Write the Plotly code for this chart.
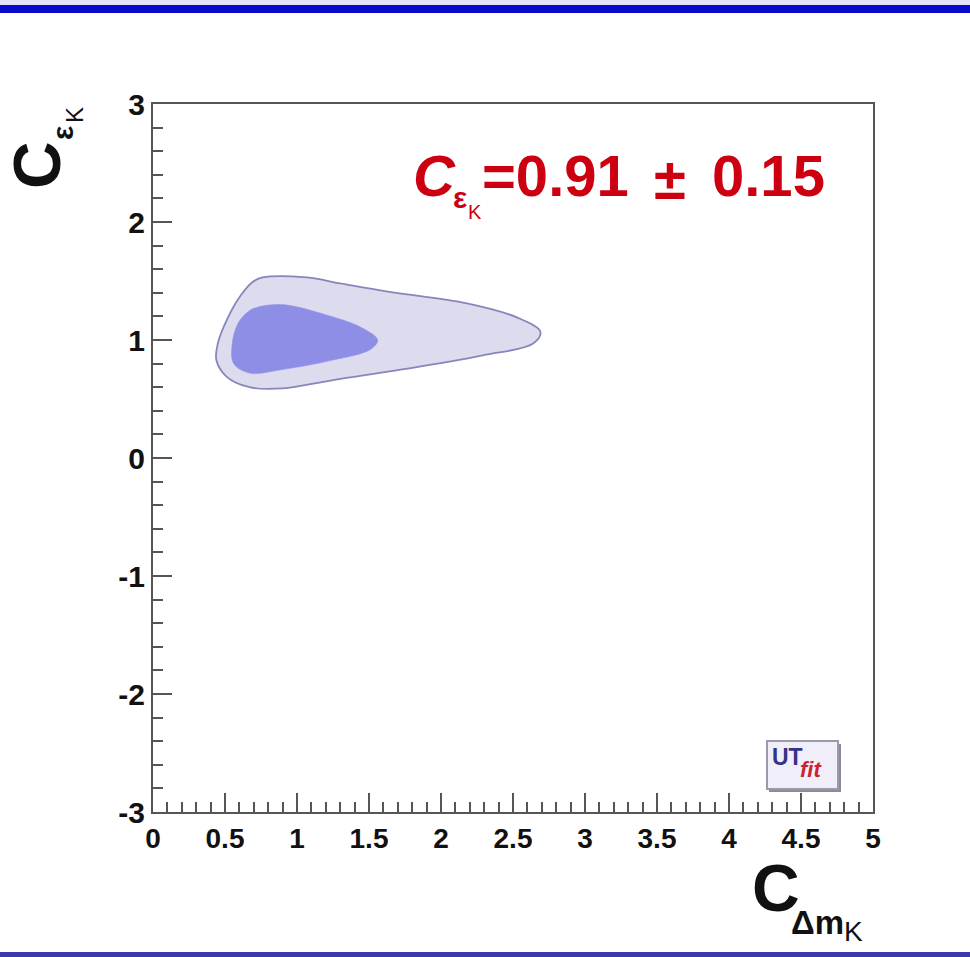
import plotly.graph_objects as go

# ---- data ----
outer_x = [0.76, 1.07, 1.30, 1.63, 2.18, 2.53, 2.69, 2.64, 2.29, 1.83, 1.25, 0.90, 0.67, 0.51, 0.44, 0.45, 0.52, 0.61, 0.69]
outer_y = [1.53, 1.53, 1.48, 1.41, 1.31, 1.19, 1.07, 0.97, 0.87, 0.77, 0.66, 0.59, 0.60, 0.69, 0.83, 0.97, 1.19, 1.38, 1.49]
inner_x = [0.73, 0.90, 1.21, 1.44, 1.56, 1.51, 1.25, 0.90, 0.67, 0.56, 0.55, 0.59, 0.66]
inner_y = [1.28, 1.30, 1.21, 1.11, 1.00, 0.92, 0.83, 0.75, 0.72, 0.80, 0.97, 1.14, 1.24]

x_tickvals = [0, 0.5, 1, 1.5, 2, 2.5, 3, 3.5, 4, 4.5, 5]
x_ticktext = ["0", "0.5", "1", "1.5", "2", "2.5", "3", "3.5", "4", "4.5", "5"]
y_tickvals = [-3, -2, -1, 0, 1, 2, 3]
y_ticktext = ["-3", "-2", "-1", "0", "1", "2", "3"]

result_value = "0.91"
result_error = "0.15"

# ---- layout geometry (pixels) ----
W, H = 970, 957
L, R, T, B = 153, 97, 104, 145
PW, PH = W - L - R, H - T - B


def px(x):
    return (x - L) / PW


def py(y):
    return (H - B - y) / PH


fig = go.Figure()
fig.add_trace(go.Scatter(
    x=outer_x + outer_x[:1], y=outer_y + outer_y[:1], mode="lines",
    line=dict(shape="spline", smoothing=1.0, color="#8686bc", width=1.8),
    fill="toself", fillcolor="#dcdcee", hoverinfo="skip", showlegend=False))
fig.add_trace(go.Scatter(
    x=inner_x + inner_x[:1], y=inner_y + inner_y[:1], mode="lines",
    line=dict(shape="spline", smoothing=1.0, color="#8e8ee6", width=0.5),
    fill="toself", fillcolor="#8e8ee6", hoverinfo="skip", showlegend=False))

axis_common = dict(showgrid=False, zeroline=False, showline=True, linecolor="#555555",
                   linewidth=2, mirror=True, ticks="inside", tickcolor="#555555",
                   tickwidth=2, ticklen=19,
                   tickfont=dict(family="Liberation Sans", size=28, color="#111111", weight="bold"))

fig.update_xaxes(range=[0, 5], tickmode="array", tickvals=x_tickvals, ticktext=x_ticktext,
                 minor=dict(tickmode="linear", tick0=0, dtick=0.1, ticks="inside", ticklen=10,
                            tickcolor="#555555", tickwidth=2),
                 ticklabelstandoff=0, **axis_common)
fig.update_yaxes(range=[-3, 3], tickmode="array", tickvals=y_tickvals, ticktext=y_ticktext,
                 minor=dict(tickmode="linear", tick0=0, dtick=0.2, ticks="inside", ticklen=10,
                            tickcolor="#555555", tickwidth=2),
                 **axis_common)
fig.update_yaxes(tickfont=dict(size=30))

red = "#cc0011"
ann = []


def A(text, x, y, size, color="#111111", xanchor="left", angle=0, family="Liberation Sans"):
    ann.append(dict(text=text, x=px(x), y=py(y), xref="paper", yref="paper", showarrow=False,
                    xanchor=xanchor, yanchor="middle", textangle=angle,
                    font=dict(family=family, size=size, color=color)))


# result annotation
A("<b><i>C</i></b>", 411, 176, 58, red)
A("<b>ε</b>", 451, 197, 30, red)
A("K", 466, 212, 20, red)
A("<b>=" + result_value + "</b>", 480, 176, 58, red)
A("<b>±</b>", 670, 178, 58, red, xanchor="center")
A("<b>" + result_error + "</b>", 710, 176, 58, red)

# x title
A("<b>C</b>", 750, 888, 66)
A("<b>Δm</b>", 789, 922, 33)
A("K", 842, 931, 28)

# y title (rotated)
A("<b>C</b>", 37, 165, 66, xanchor="center", angle=-90)
A("<b>ε</b>", 62, 133, 30, xanchor="center", angle=-90)
A("K", 74, 115, 24, xanchor="center", angle=-90)

# logo
A("<b>UT</b>", 770, 757, 23, color="#33338a")
A("<b><i>fit</i></b>", 798, 769, 22, color="#cc2233")

shapes = [
    # top lavender strip and blue band
    dict(type="rect", xref="paper", yref="paper", x0=px(0), x1=px(W), y0=py(0), y1=py(5),
         fillcolor="#e4e4f6", line=dict(width=0), layer="below"),
    dict(type="rect", xref="paper", yref="paper", x0=px(0), x1=px(W), y0=py(5), y1=py(13),
         fillcolor="#0a0acc", line=dict(width=0)),
    dict(type="rect", xref="paper", yref="paper", x0=px(0), x1=px(W), y0=py(952), y1=py(957),
         fillcolor="#3a3aae", line=dict(width=0)),
    # logo box
    dict(type="rect", xref="paper", yref="paper", x0=px(769), x1=px(841), y0=py(744), y1=py(792),
         fillcolor="#8a8a9a", line=dict(width=0)),
    dict(type="rect", xref="paper", yref="paper", x0=px(767), x1=px(838), y0=py(741), y1=py(789),
         fillcolor="#f0eef8", line=dict(color="#9a9aaa", width=2)),
]

fig.update_layout(width=W, height=H, margin=dict(l=L, r=R, t=T, b=B, pad=0),
                  paper_bgcolor="white", plot_bgcolor="white",
                  annotations=ann, shapes=shapes, showlegend=False)

fig.write_html("out.html", config={"displayModeBar": False})
